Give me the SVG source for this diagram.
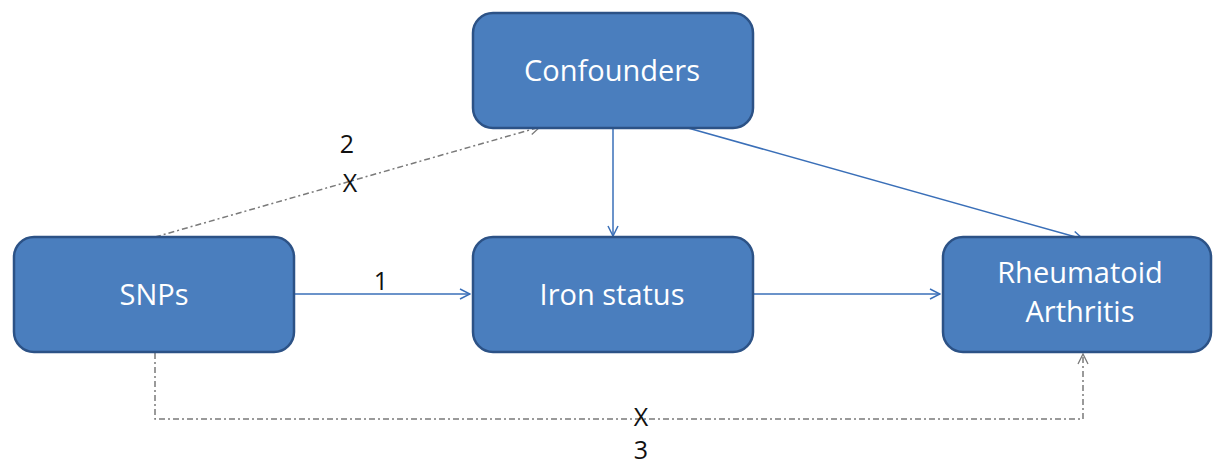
<svg xmlns="http://www.w3.org/2000/svg" width="1213" height="465" viewBox="0 0 1213 465">
<defs>
<style>
.box{fill:#4a7ebe;stroke:#2c5286;stroke-width:2.5}
.t{font-family:"Open Sans","Noto Sans",sans-serif;font-size:29px;fill:#ffffff;text-anchor:middle}
.lbl{font-family:"Open Sans","Noto Sans",sans-serif;font-size:25px;fill:#111111;text-anchor:middle}
.blue{stroke:#3a6fb8;stroke-width:1.5;fill:none}
.gray{stroke:#7a7a7a;stroke-width:1.5;fill:none;stroke-dasharray:6 3 2 3}
</style>
<marker id="ab" viewBox="0 0 12 12" refX="11" refY="6" markerWidth="12" markerHeight="12" markerUnits="userSpaceOnUse" orient="auto">
<path d="M1,1 L11,6 L1,11" fill="none" stroke="#3a6fb8" stroke-width="1.5"/>
</marker>
<marker id="ag" viewBox="0 0 12 12" refX="11" refY="6" markerWidth="12" markerHeight="12" markerUnits="userSpaceOnUse" orient="auto">
<path d="M1,1 L11,6 L1,11" fill="none" stroke="#7a7a7a" stroke-width="1.3"/>
</marker>
</defs>
<rect width="1213" height="465" fill="#ffffff"/>
<g id="connectors">
<line class="blue" x1="295" y1="294" x2="470" y2="294" marker-end="url(#ab)"/>
<line class="blue" x1="754" y1="294" x2="940" y2="294" marker-end="url(#ab)"/>
<line class="blue" x1="613" y1="128" x2="613" y2="236" marker-end="url(#ab)"/>
<line class="blue" x1="688" y1="128" x2="1083" y2="239" marker-end="url(#ab)"/>
<line class="gray" x1="155" y1="237" x2="540" y2="127" marker-end="url(#ag)"/>
<polyline class="gray" points="155,353 155,419 1083,419 1083,354" marker-end="url(#ag)"/>
<text class="lbl" x="381" y="290">1</text>
<text class="lbl" x="347" y="153">2</text>
<text class="lbl" x="350" y="192">X</text>
<text class="lbl" x="641" y="426">X</text>
<text class="lbl" x="641" y="459">3</text>
</g>
<g id="confounders">
<rect class="box" x="473" y="13" width="280" height="115" rx="20"/>
<text class="t" x="612" y="81">Confounders</text>
</g>
<g id="snps">
<rect class="box" x="14" y="237" width="280" height="115" rx="20"/>
<text class="t" x="154" y="305">SNPs</text>
</g>
<g id="iron">
<rect class="box" x="473" y="237" width="280" height="115" rx="20"/>
<text class="t" x="612" y="305">Iron status</text>
</g>
<g id="ra">
<rect class="box" x="943" y="237" width="268" height="115" rx="20"/>
<text class="t" x="1080" y="283">Rheumatoid</text>
<text class="t" x="1080" y="322">Arthritis</text>
</g>
</svg>
